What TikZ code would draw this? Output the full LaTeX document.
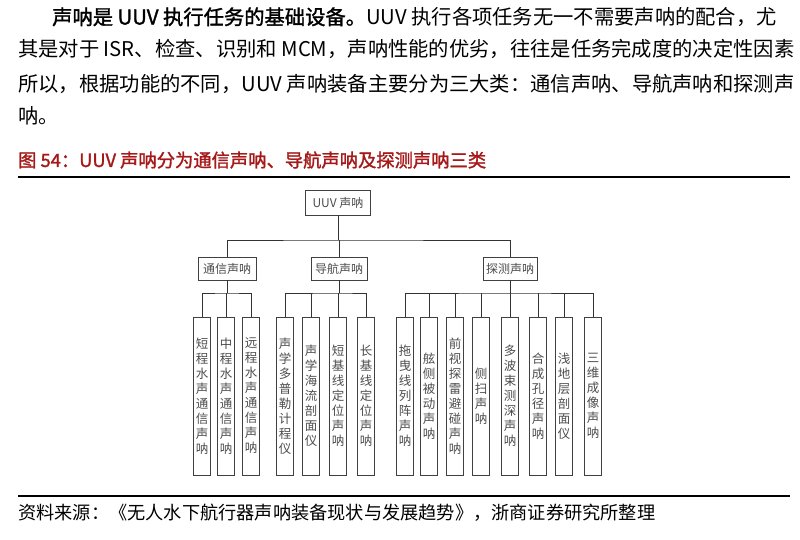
\documentclass[tikz,border=0pt]{standalone}
\usepackage{fontspec}
\setmainfont{Liberation Serif}
\newfontfamily\cjk{Noto Sans CJK SC}
\newfontfamily\cjkb{Noto Sans CJK SC}[FakeBold=1.5]
\begin{document}
\begin{tikzpicture}[x=1pt,y=-1pt,
  box/.style={draw=black!75,line width=0.7pt,inner sep=1pt,font=\cjk\fontsize{12}{13}\selectfont,text=black!70},
  leaf/.style={draw=black!75,line width=0.7pt,minimum width=17pt,minimum height=158pt,inner sep=0pt,align=center,font=\cjk\fontsize{12.5}{15}\selectfont,text=black!70},
  con/.style={draw=black!80,line width=0.7pt},
  para/.style={anchor=west,inner sep=0pt,font=\cjk\fontsize{20.3}{22}\selectfont}]
\useasboundingbox (0,0) rectangle (800,539);
\node[para] (p1) at (52,17) {{\cjkb 声呐是 UUV 执行任务的基础设备。}UUV 执行各项任务无一不需要声呐的配合，尤};
\node[para] (p2) at (18,49) {其是对于 ISR、检查、识别和 MCM，声呐性能的优劣，往往是任务完成度的决定性因素};
\node[para] (p3) at (18,84) {所以，根据功能的不同，UUV 声呐装备主要分为三大类：通信声呐、导航声呐和探测声};
\node[para] (p4) at (18,116) {呐。};
\node[anchor=west,inner sep=0pt,text={rgb,255:red,165;green,25;blue,25},font=\cjkb\fontsize{18.3}{19}\selectfont] (ttl) at (18,160) {图\ 54：UUV 声呐分为通信声呐、导航声呐及探测声呐三类};
\draw[line width=1.2pt] (18,177) coordinate (r1a) -- (790,177) coordinate (r1b);
\draw[line width=1.2pt] (18,496) coordinate (r2a) -- (790,496) coordinate (r2b);
\node[anchor=west,inner sep=0pt,font=\cjk\fontsize{18.2}{19}\selectfont] (src) at (18,513) {资料来源：《无人水下航行器声呐装备现状与发展趋势》，浙商证券研究所整理};

\node[box,minimum width=65pt,minimum height=25pt] (root) at (338,202.5) {UUV 声呐};
\node[box,minimum width=58pt,minimum height=23pt] (c1) at (227,268.5) {通信声呐};
\node[box,minimum width=56pt,minimum height=23pt] (c2) at (339,268.5) {导航声呐};
\node[box,minimum width=54pt,minimum height=23pt] (c3) at (510,268.5) {探测声呐};
\coordinate (b0) at (338,240);
\draw[con] (root) -- (b0);
\draw[con] (c1.north) |- (b0) -| (c3.north);
\draw[con] (c2.north) -- (c2.north |- b0);

\foreach \n/\x/\t in {l1/202/短\\程\\水\\声\\通\\信\\声\\呐, l2/226/中\\程\\水\\声\\通\\信\\声\\呐, l3/251/远\\程\\水\\声\\通\\信\\声\\呐,
  l4/285/声\\学\\多\\普\\勒\\计\\程\\仪, l5/311/声\\学\\海\\流\\剖\\面\\仪, l6/338/短\\基\\线\\定\\位\\声\\呐, l7/366/长\\基\\线\\定\\位\\声\\呐,
  l8/405/拖\\曳\\线\\列\\阵\\声\\呐, l9/429/舷\\侧\\被\\动\\声\\呐, l10/455/前\\视\\探\\雷\\避\\碰\\声\\呐, l11/481/侧\\扫\\声\\呐,
  l12/510/多\\波\\束\\测\\深\\声\\呐, l13/538/合\\成\\孔\\径\\声\\呐, l14/564/浅\\地\\层\\剖\\面\\仪, l15/593/三\\维\\成\\像\\声\\呐}
  {\node[leaf] (\n) at (\x,396) {\t};}

\coordinate (b1) at (227,293);
\coordinate (b2) at (339,293);
\coordinate (b3) at (510,293);
\draw[con] (c1) -- (b1); \draw[con] (c2) -- (b2); \draw[con] (c3) -- (b3);
\draw[con] (l1.north) |- (b1) -| (l3.north);
\draw[con] (l2.north) -- (l2.north |- b1);
\draw[con] (l4.north) |- (b2) -| (l7.north);
\foreach \n in {l5,l6} \draw[con] (\n.north) -- (\n.north |- b2);
\draw[con] (l8.north) |- (b3) -| (l15.north);
\foreach \n in {l9,l10,l11,l12,l13,l14} \draw[con] (\n.north) -- (\n.north |- b3);
\end{tikzpicture}
\end{document}
